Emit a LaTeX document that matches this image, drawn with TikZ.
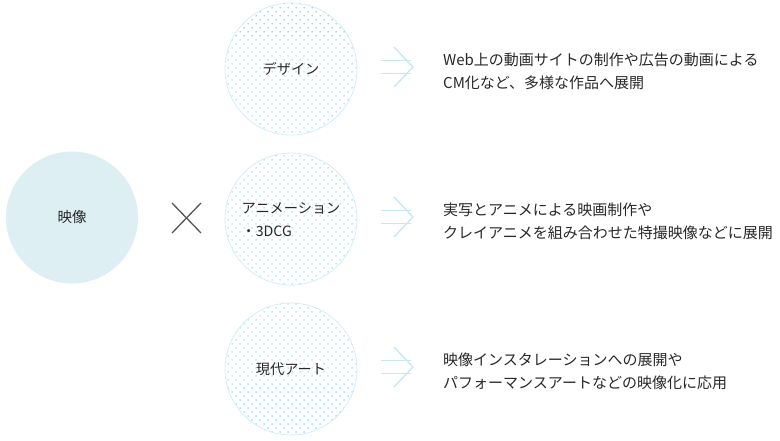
\documentclass[tikz,border=0pt]{standalone}
\usepackage{fontspec}
\setmainfont{Noto Sans CJK JP}
\usetikzlibrary{patterns.meta}
\definecolor{txt}{RGB}{40,40,40}
\definecolor{mainfill}{RGB}{221,239,243}
\definecolor{ringline}{RGB}{214,236,242}
\definecolor{dotc}{RGB}{70,200,235}
\definecolor{arrowc}{RGB}{200,232,240}
\definecolor{xc}{RGB}{85,85,85}
\tikzset{
  maincircle/.style={circle, fill=mainfill, minimum size=132pt, inner sep=0pt, text=txt, font=\fontsize{14.5}{18}\selectfont},
  dotcircle/.style={circle, draw=ringline, line width=0.8pt, pattern={Dots[distance=5.66pt,radius=0.75pt,angle=45]}, pattern color=dotc, minimum size=132pt, inner sep=0pt},
  circlabel/.style={text=txt, font=\fontsize{14.2}{23}\selectfont, align=left, inner sep=0pt},
  desc/.style={text=txt, font=\fontsize{15}{23.5}\selectfont, align=left, anchor=base west, inner sep=0pt},
  xline/.style={draw=xc, line width=1.3pt},
  arrowline/.style={draw=arrowc, line width=1.4pt},
}
\begin{document}
\begin{tikzpicture}[x=1pt,y=-1pt]
\useasboundingbox (0,0) rectangle (780,440);
% main circle
\node[maincircle] (main) at (72,217.5) {映像};
% cross
\coordinate (xa) at (172,203);
\coordinate (xb) at (201,233);
\coordinate (xc1) at (172,233);
\coordinate (xd) at (201,203);
\draw[xline] (xa) -- (xb);
\draw[xline] (xc1) -- (xd);
% dotted circles
\node[dotcircle] (c1) at (291,69) {};
\node[dotcircle] (c2) at (291,219) {};
\node[dotcircle] (c3) at (291,369) {};
\node[circlabel] (l1) at (c1) {デザイン};
\node[circlabel] (l2) at (291,219.5) {アニメーション\\・3DCG};
\node[circlabel] (l3) at (c3) {現代アート};
% arrows
\foreach \n/\y in {a1/67, a2/217, a3/367}{
  \coordinate (\n s1) at (381,\y-6.5);
  \coordinate (\n e1) at (411,\y-6.5);
  \coordinate (\n s2) at (381,\y+6.5);
  \coordinate (\n e2) at (411,\y+6.5);
  \coordinate (\n t) at (413,\y);
  \coordinate (\n u) at (394,\y-20);
  \coordinate (\n d) at (394,\y+20);
  \draw[arrowline] (\n s1) -- (\n e1);
  \draw[arrowline] (\n s2) -- (\n e2);
  \draw[arrowline, line join=miter] (\n u) -- (\n t) -- (\n d);
}
% descriptions (base = baseline of last line)
\node[desc] (d1) at (443,88.5) {Web上の動画サイトの制作や広告の動画による\\CM化など、多様な作品へ展開};
\node[desc] (d2) at (443,238.5) {実写とアニメによる映画制作や\\クレイアニメを組み合わせた特撮映像などに展開};
\node[desc] (d3) at (443,388.5) {映像インスタレーションへの展開や\\パフォーマンスアートなどの映像化に応用};
\end{tikzpicture}
\end{document}
